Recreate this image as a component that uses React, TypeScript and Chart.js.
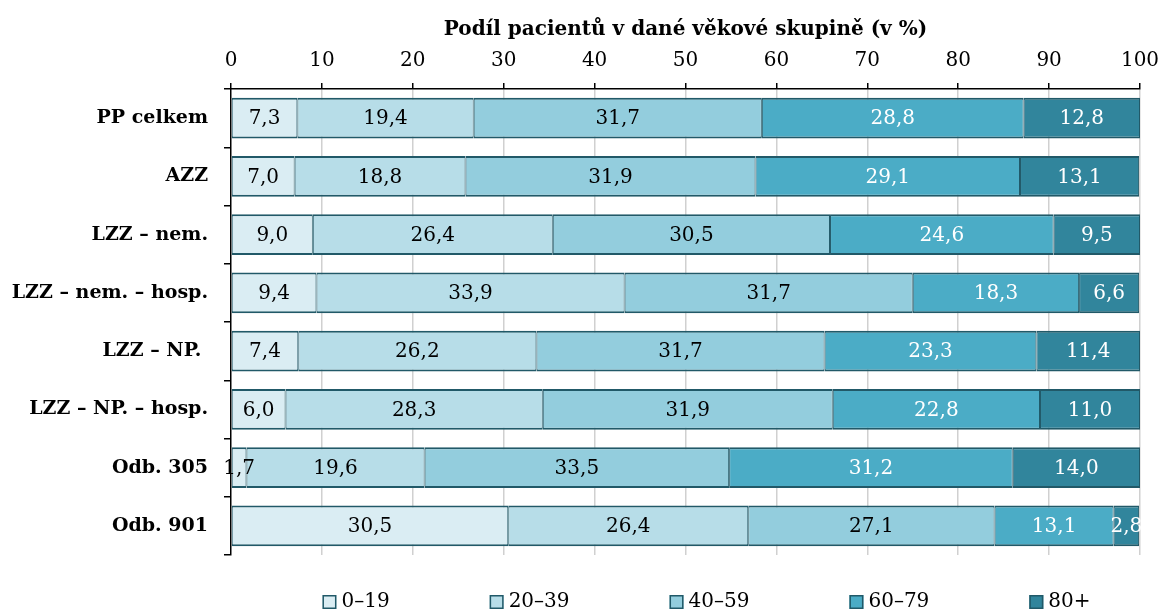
import React, { useEffect, useRef } from 'react';
import { Chart, registerables } from 'chart.js';

Chart.register(...registerables);

const categories = [
  'PP celkem',
  'AZZ',
  'LZZ – nem.',
  'LZZ – nem. – hosp.',
  'LZZ – NP. ',
  'LZZ – NP. – hosp.',
  'Odb. 305',
  'Odb. 901',
];
const seriesNames = ['0–19', '20–39', '40–59', '60–79', '80+'];
const age0to19 = [7.3, 7.0, 9.0, 9.4, 7.4, 6.0, 1.7, 30.5];
const age20to39 = [19.4, 18.8, 26.4, 33.9, 26.2, 28.3, 19.6, 26.4];
const age40to59 = [31.7, 31.9, 30.5, 31.7, 31.7, 31.9, 33.5, 27.1];
const age60to79 = [28.8, 29.1, 24.6, 18.3, 23.3, 22.8, 31.2, 13.1];
const age80plus = [12.8, 13.1, 9.5, 6.6, 11.4, 11.0, 14.0, 2.8];
const axisTitle = 'Podíl pacientů v dané věkové skupině (v %)';

const seriesValues = [age0to19, age20to39, age40to59, age60to79, age80plus];
const fillColors = ['#daedf3', '#b7dde8', '#93cddd', '#4bacc6', '#31859c'];
const labelColors = ['#000000', '#000000', '#000000', '#ffffff', '#ffffff'];
const borderColor = '#215968';
const SERIF = '"DejaVu Serif", "Liberation Serif", serif';

const fmt = (v: number) => v.toFixed(1).replace('.', ',');

const dataLabelPlugin = {
  id: 'dataLabels',
  afterDatasetsDraw(chart: any) {
    const ctx = chart.ctx;
    ctx.save();
    ctx.font = `20px ${SERIF}`;
    ctx.textAlign = 'center';
    ctx.textBaseline = 'middle';
    chart.data.datasets.forEach((ds: any, di: number) => {
      const meta = chart.getDatasetMeta(di);
      ctx.fillStyle = labelColors[di];
      meta.data.forEach((el: any, i: number) => {
        const p = el.getProps(['x', 'y', 'base'], true);
        ctx.fillText(fmt(ds.data[i]), (p.x + p.base) / 2, p.y + 1);
      });
    });
    ctx.restore();
  },
};

const legendPlugin = {
  id: 'customLegend',
  afterDraw(chart: any) {
    const ctx = chart.ctx;
    const { chartArea } = chart;
    ctx.save();
    ctx.font = `20px ${SERIF}`;
    const box = 14;
    const gapText = 5;
    const gapItem = 100;
    const widths = seriesNames.map((n) => box + gapText + ctx.measureText(n).width);
    const total = widths.reduce((a, b) => a + b, 0) + gapItem * (widths.length - 1);
    let x = (chartArea.left + chartArea.right) / 2 + 21 - total / 2;
    const cy = 602;
    seriesNames.forEach((n, i) => {
      ctx.fillStyle = fillColors[i];
      ctx.fillRect(x, cy - box / 2, box, box);
      ctx.strokeStyle = borderColor;
      ctx.lineWidth = 1.5;
      ctx.strokeRect(x + 0.75, cy - box / 2 + 0.75, box - 1.5, box - 1.5);
      ctx.fillStyle = '#000';
      ctx.textAlign = 'left';
      ctx.textBaseline = 'middle';
      ctx.fillText(n, x + box + gapText, cy);
      x += widths[i] + gapItem;
    });
    ctx.restore();
  },
};

export default function App() {
  const ref = useRef<HTMLCanvasElement>(null);

  useEffect(() => {
    if (!ref.current) return;
    const chart = new Chart(ref.current, {
      type: 'bar',
      data: {
        labels: categories,
        datasets: seriesNames.map((name, i) => ({
          label: name,
          data: seriesValues[i],
          backgroundColor: fillColors[i],
          borderColor: borderColor,
          borderWidth: { top: 2, bottom: 2, left: 1, right: 1 },
          borderSkipped: false,
          categoryPercentage: 1,
          barPercentage: 0.7,
        })),
      },
      options: {
        indexAxis: 'y',
        responsive: false,
        animation: false,
        devicePixelRatio: 1,
        layout: { padding: { top: 0, right: 22, bottom: 54, left: 0 } },
        plugins: {
          legend: { display: false },
          tooltip: { enabled: false },
        },
        scales: {
          x: {
            position: 'top',
            stacked: true,
            min: 0,
            max: 100,
            ticks: {
              stepSize: 10,
              color: '#000',
              font: { family: SERIF, size: 20 },
              padding: 10,
            },
            grid: {
              color: (c: any) => (c.index === 0 ? 'rgba(0,0,0,0)' : '#d0d0d0'),
              lineWidth: 1.5,
              tickColor: '#000',
              tickLength: 6,
              tickWidth: 1.5,
            },
            border: { color: '#000', width: 1.5 },
            title: {
              display: true,
              text: axisTitle,
              color: '#000',
              font: { family: SERIF, size: 20, weight: 'bold' },
              padding: { top: 18, bottom: 0 },
            },
            afterFit: (scale: any) => {
              scale.height = 89;
              scale.paddingRight = 0;
              scale.paddingLeft = 0;
            },
          },
          y: {
            stacked: true,
            ticks: {
              color: '#000',
              font: { family: SERIF, size: 19, weight: 'bold' },
              padding: 16,
            },
            grid: {
              color: (c: any) => (c.index === categories.length ? '#d0d0d0' : 'rgba(0,0,0,0)'),
              lineWidth: 1.5,
              tickColor: '#000',
              tickLength: 7,
              tickWidth: 1.5,
            },
            border: { color: '#000', width: 1.5 },
            afterFit: (scale: any) => {
              scale.width = 231;
            },
          },
        },
      },
      plugins: [dataLabelPlugin, legendPlugin],
    });
    return () => chart.destroy();
  }, []);

  return (
    <div style={{ position: 'fixed', left: 0, top: 0, width: 1162, height: 609, background: '#fff' }}>
      <canvas ref={ref} width={1162} height={609} style={{ display: 'block' }} />
    </div>
  );
}
